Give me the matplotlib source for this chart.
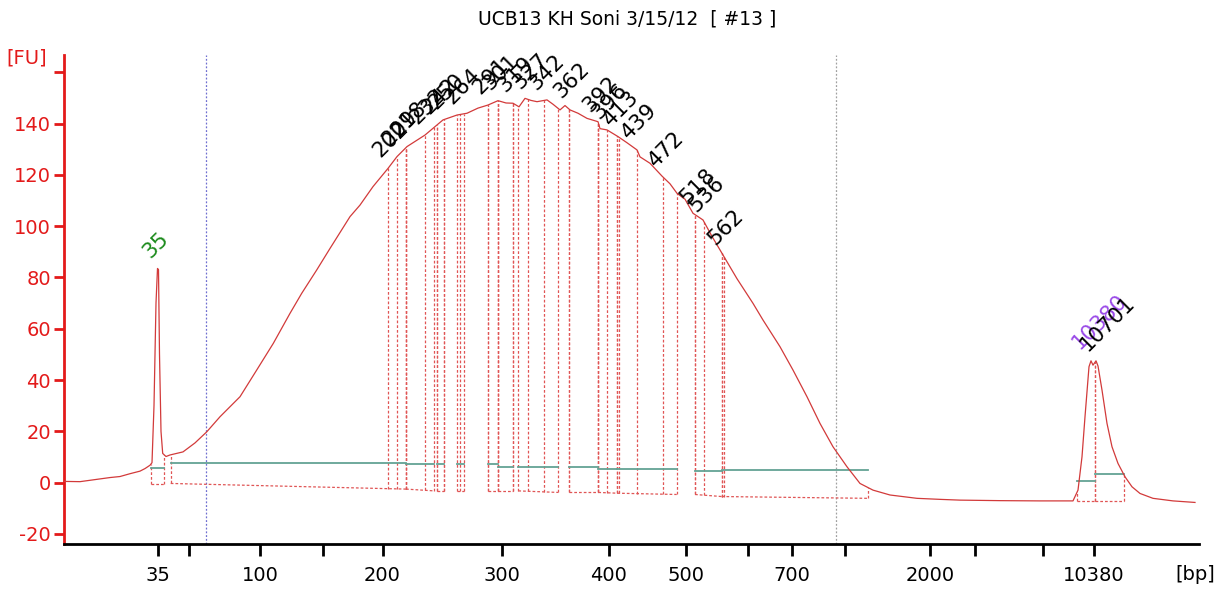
import matplotlib
matplotlib.use("Agg")
import matplotlib.pyplot as plt
import numpy as np

TITLE = "UCB13 KH Soni 3/15/12  [ #13 ]"

# Electropherogram trace: migration time [s] and fluorescence [FU]
trace_t = [41.4, 43.0, 44.5, 46.0, 47.0, 48.0, 49.0, 49.5, 50.0, 50.2, 50.4, 50.6,
           50.75, 50.85, 50.95, 51.1, 51.27, 51.6, 52.0, 53.3, 54.5, 55.67, 57.0,
           59.0, 60.67, 62.33, 64.0, 65.17, 66.67, 68.0, 70.0, 71.0, 72.3, 73.8,
           74.7, 75.7, 77.5, 79.3, 80.7, 81.7, 82.8, 83.8, 84.8, 85.6, 86.3, 86.9,
           87.5, 88.1, 88.7, 89.7, 90.3, 91.0, 91.5, 92.0, 92.8, 93.7, 94.8, 95.0,
           95.7, 96.8, 97.7, 98.7, 99.0, 100.0, 101.2, 102.0, 102.7, 103.5, 104.3,
           105.3, 106.2, 107.2, 108.7, 110.3, 111.3, 113.0, 114.3, 115.7, 117.0,
           118.3, 119.7, 121.0, 122.3, 124.0, 126.7, 129.0, 131.0, 135.0, 139.0,
           142.3, 142.8, 143.2, 143.5, 143.9, 144.1, 144.3, 144.6, 144.8, 145.2,
           145.7, 146.2, 146.8, 147.5, 148.2, 149.0, 150.3, 152.3, 154.5]
trace_fu = [0.5, 0.4, 1.2, 2.0, 2.4, 3.5, 4.5, 5.5, 6.8, 7.8, 30.0, 70.0,
            83.5, 83.0, 50.0, 20.0, 11.4, 10.2, 10.8, 12.0, 15.5, 19.8, 25.7,
            33.5, 43.9, 54.3, 66.0, 73.8, 82.9, 91.3, 103.7, 108.2, 115.4, 122.5,
            127.1, 131.0, 135.5, 141.4, 143.3, 144.0, 146.0, 147.2, 148.9, 148.0,
            147.9, 146.5, 149.8, 149.0, 148.5, 149.2, 147.5, 145.3, 147.0, 145.3,
            144.0, 142.0, 140.7, 138.0, 137.5, 134.9, 132.5, 129.7, 127.0, 124.5,
            119.5, 116.5, 112.8, 110.5, 105.0, 102.4, 96.0, 89.4, 79.5, 69.9, 63.4,
            53.0, 43.9, 33.5, 23.1, 14.0, 6.2, -0.3, -2.9, -4.8, -6.1, -6.5, -6.8,
            -7.0, -7.1, -7.1, -2.9, 10.1, 25.7, 45.2, 47.5, 45.8, 47.5, 45.5, 36.1,
            23.1, 14.0, 7.5, 2.3, -1.6, -4.2, -6.1, -7.1, -7.7]

# Ladder (x axis) sizes and their migration times
ladder_bp = [35, 50, 100, 150, 200, 300, 400, 500, 600, 700, 1000, 2000, 3000, 7000, 10380]
ladder_t = [50.8, 53.85, 61.0, 67.25, 73.25, 85.2, 95.85, 103.6, 109.8, 114.2,
            119.5, 128.0, 132.5, 139.3, 144.4]
ladder_shown = [True, False, True, False, True, True, True, True, False, True,
                False, True, False, False, True]

# Integration regions: start, end, baseline level, lower line at start/end
region_start = [50.07, 52.07, 75.6, 78.67, 80.67, 83.83, 84.83, 86.83, 91.9, 94.83,
                96.73, 104.5, 107.17, 142.73, 144.5]
region_end = [51.4, 75.6, 78.43, 79.4, 81.43, 84.83, 86.27, 90.83, 94.83, 96.73,
              102.67, 107.17, 121.83, 144.5, 147.43]
region_base = [5.6, 7.8, 7.1, 7.1, 7.1, 7.1, 6.3, 6.3, 6.3, 5.4, 5.4, 4.6, 4.8, 0.7, 3.2]
region_low0 = [-0.7, -0.3, -2.5, -3.2, -3.2, -3.2, -3.2, -3.2, -3.8, -3.8, -4.1, -4.6,
               -5.4, -7.1, -7.1]
region_low1 = [-0.7, -2.5, -3.2, -3.2, -3.2, -3.2, -3.2, -3.8, -3.8, -4.1, -4.6, -5.4,
               -6.1, -7.1, -7.1]

# Peak labels (bp) and their migration times
peak_label = ["35", "202", "209", "218", "232", "242", "250", "264", "291", "301",
              "319", "327", "342", "362", "392", "396", "413", "439", "472", "518",
              "536", "562", "10380", "10701"]
peak_t = [50.8, 73.83, 74.67, 75.6, 77.5, 78.67, 79.4, 81.0, 83.83, 84.83, 86.27,
          87.83, 89.43, 91.9, 94.83, 95.67, 96.9, 98.67, 101.33, 104.5, 105.43,
          107.35, 144.3, 144.5]
peak_kind = ["lower"] + ["sample"] * 21 + ["upper", "sample"]

lower_marker_t = 55.6
upper_marker_t = 118.6

RED = "#d23a3a"
DOT_RED = "#e05555"
GREEN_BASE = "#63a394"

fig = plt.figure(figsize=(12.16, 5.92), dpi=100)
ax = fig.add_axes([64 / 1216, 1 - 544 / 592, (1199 - 64) / 1216, (544 - 55) / 592])

tt = np.array(trace_t)
ff = np.array(trace_fu)

# lower (dotted) integration line as a lookup
low_x, low_y = [], []
for s, e, a, b in zip(region_start, region_end, region_low0, region_low1):
    low_x += [s, e]
    low_y += [a, b]
order = np.argsort(low_x, kind="stable")
low_x = np.array(low_x)[order]
low_y = np.array(low_y)[order]

dotted = (0, (2.2, 1.6))
for s, e, base, a, b in zip(region_start, region_end, region_base, region_low0, region_low1):
    ax.plot([s, e], [base, base], color=GREEN_BASE, lw=1.3, zorder=3)
    ax.plot([s, e], [a, b], color=DOT_RED, lw=0.9, ls=dotted, zorder=2)
    for x, lo in ((s, a), (e, b)):
        top = np.interp(x, tt, ff)
        ax.plot([x, x], [lo, top], color=DOT_RED, lw=0.9, ls=dotted, zorder=2)

label_style = {
    "lower": ("#1a8a1a", (-3.5, 5), 5),
    "upper": ("#9a4ae8", (-7.5, 9), 5),
    "sample": ("black", (-3.5, 5), 6),
}
for lab, x, kind in zip(peak_label, peak_t, peak_kind):
    top = np.interp(x, tt, ff)
    if kind == "sample" and x < 140:
        lo = np.interp(x, low_x, low_y)
        ax.plot([x, x], [lo, top], color=DOT_RED, lw=0.9, ls=dotted, zorder=2)
    col, off, z = label_style[kind]
    ax.annotate(lab, xy=(x, top), xytext=off, textcoords="offset points",
                rotation=45, rotation_mode="anchor", ha="left", va="bottom",
                fontsize=15.5, color=col, zorder=z)

ax.axvline(lower_marker_t, color="#6f6fd0", lw=0.9, ls=(0, (1.5, 1.5)), zorder=1)
ax.axvline(upper_marker_t, color="#a0a0a0", lw=0.9, ls=(0, (1.5, 1.5)), zorder=1)

ax.plot(tt, ff, color=RED, lw=0.9, zorder=4)

ax.set_xlim(41.4, 154.9)
ax.set_ylim(-23.9, 166.7)

ax.set_xticks(ladder_t)
ax.set_xticklabels([str(b) if s else "" for b, s in zip(ladder_bp, ladder_shown)])
yt = list(range(-20, 161, 20))
ax.set_yticks(yt)
ax.set_yticklabels([str(v) if v <= 140 else "" for v in yt])

for side in ("top", "right"):
    ax.spines[side].set_visible(False)
ax.spines["left"].set_color("#e31a1a")
ax.spines["left"].set_linewidth(2)
ax.spines["bottom"].set_color("black")
ax.spines["bottom"].set_linewidth(2)
ax.tick_params(axis="y", colors="#e31a1a", labelcolor="#e31a1a", length=7.5, width=2,
               labelsize=14, pad=2)
ax.tick_params(axis="x", colors="black", length=8.5, width=2, labelsize=14, pad=7)

fig.text(27 / 1216, 1 - 58 / 592, "[FU]", color="#e31a1a", fontsize=14,
         ha="center", va="center")
fig.text(1195 / 1216, 1 - 574 / 592, "[bp]", color="black", fontsize=14,
         ha="center", va="center")
fig.text(627 / 1216, 1 - 19 / 592, TITLE, color="black", fontsize=13.5,
         ha="center", va="center")

fig.savefig("out.png", dpi=100)
